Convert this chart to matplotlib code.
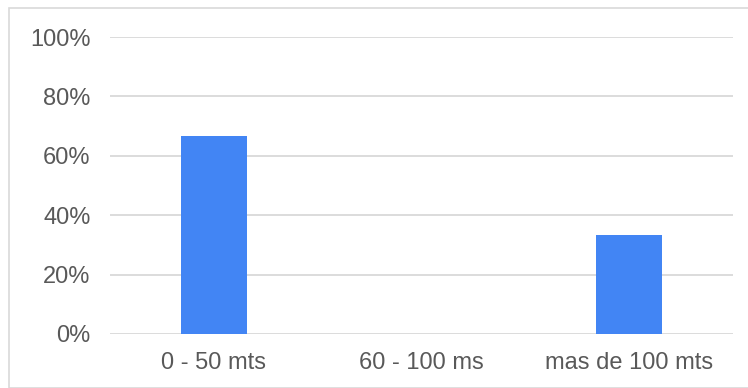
import matplotlib
matplotlib.use("Agg")
import matplotlib.pyplot as plt
from matplotlib.patches import Rectangle
from matplotlib.ticker import PercentFormatter

categories = ["0 - 50 mts", "60 - 100 ms", "mas de 100 mts"]
values = [0.6667, 0.0, 0.3333]
yticks = [0, 0.2, 0.4, 0.6, 0.8, 1.0]

plt.rcParams['font.family'] = ['Liberation Sans', 'DejaVu Sans']

fig = plt.figure(figsize=(7.48, 3.88), dpi=100)
fig.patches.append(Rectangle((9/748, 0), 1.0, 1 - 8/388, transform=fig.transFigure,
                             fill=False, edgecolor="#d9d9d9", linewidth=1.2))
ax = fig.add_axes([110/748, 1 - 334/388, 623/748, 297/388])

x = range(len(categories))
ax.bar(x, values, width=0.32, color="#4285F4", zorder=3)
ax.set_xlim(-0.5, 2.5)
ax.set_ylim(0, 1.0)
ax.set_yticks(yticks)
ax.yaxis.set_major_formatter(PercentFormatter(1.0, decimals=0))
ax.set_xticks(list(x))
ax.set_xticklabels(categories)
ax.grid(axis="y", color="#d9d9d9", linewidth=1.3, zorder=0)
ax.set_axisbelow(True)
for s in ax.spines.values():
    s.set_visible(False)
ax.tick_params(axis="both", length=0, labelsize=17, labelcolor="#595959")
ax.tick_params(axis="y", pad=14)
ax.tick_params(axis="x", pad=13)

fig.savefig("out.png", dpi=100)
